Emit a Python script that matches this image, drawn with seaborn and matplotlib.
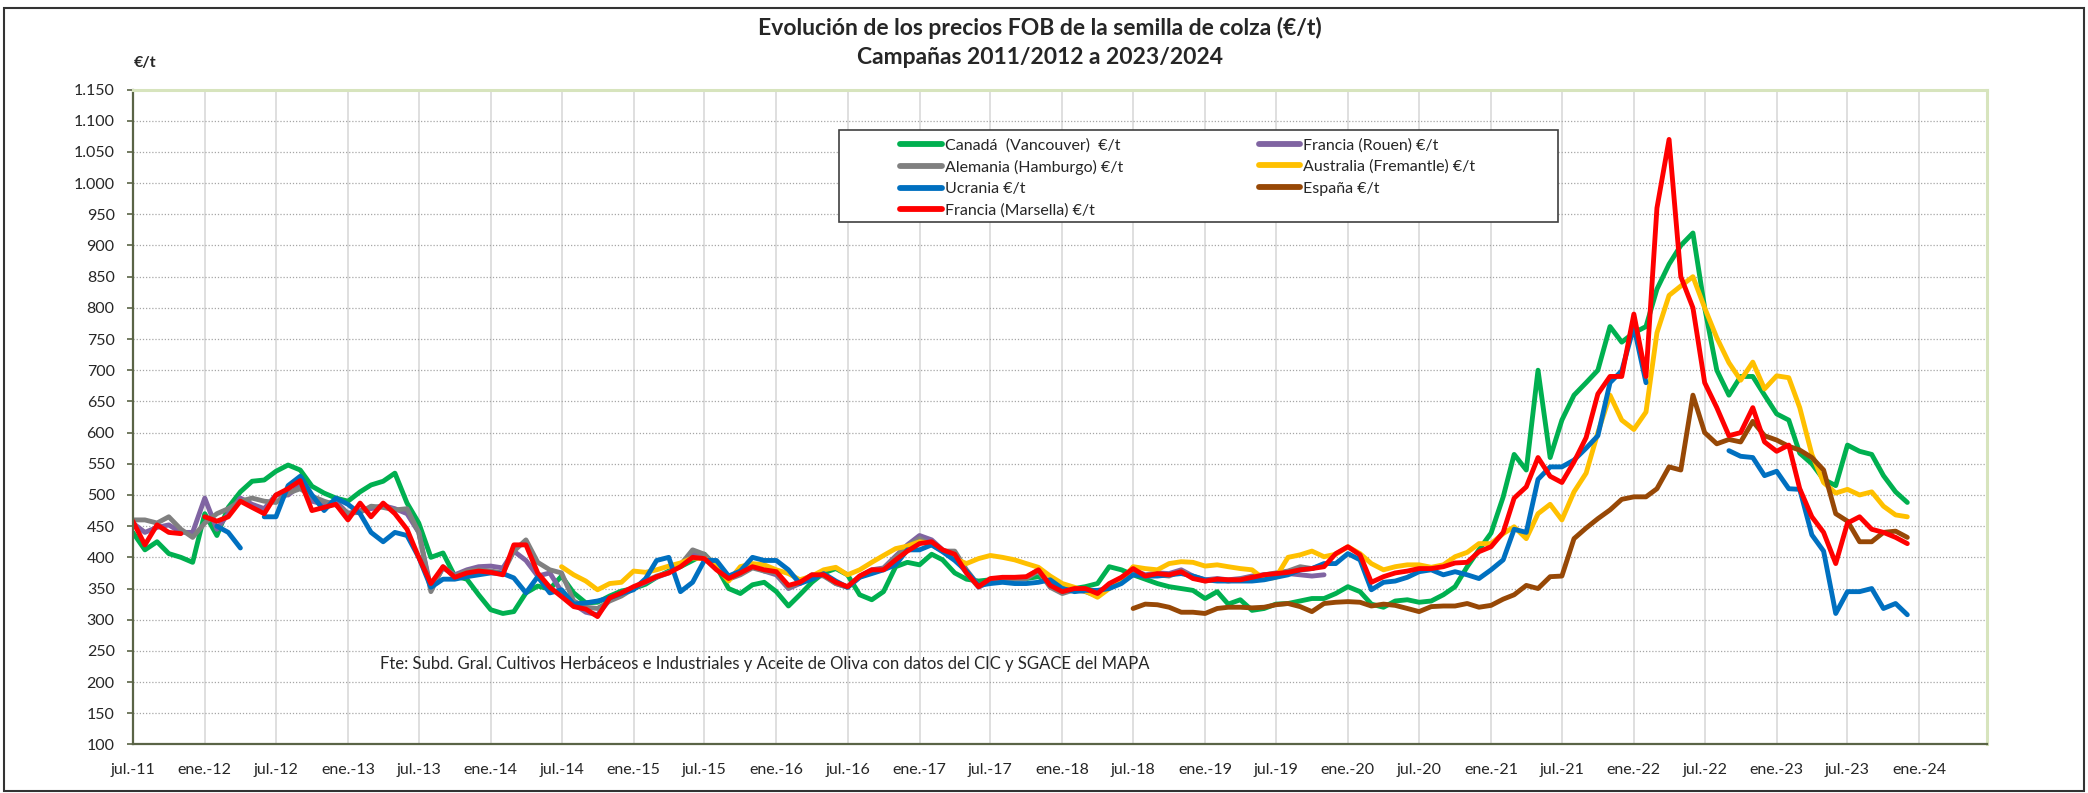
import numpy as np
import pandas as pd
import matplotlib
matplotlib.use('Agg')
import matplotlib.pyplot as plt
import seaborn as sns
from matplotlib.lines import Line2D
from matplotlib.patches import Rectangle
from matplotlib import ticker

nan = np.nan

# monthly readings, jul-2011 .. dic-2023 (one row per campaign jul-jun)
fechas = pd.date_range('2011-07-01', periods=150, freq='MS')

canada = [
    440, 412, 425, 406, 400, 392, 470, 435, 480, 505, 522, 524,
    538, 548, 540, 514, 503, 495, 490, 505, 516, 522, 535, 487,
    455, 400, 407, 370, 365, 340, 316, 310, 313, 343, 354, 349,
    370, 343, 327, 328, 338, 346, 350, 357, 368, 378, 385, 395,
    405, 385, 350, 342, 356, 360, 345, 322, 340, 360, 375, 382,
    372, 340, 332, 345, 385, 392, 388, 405, 396, 375, 365, 362,
    364, 364, 366, 366, 369, 360, 350, 350, 353, 358, 385, 380,
    372, 365, 358, 353, 350, 347, 334, 345, 325, 332, 315, 318,
    325, 326, 330, 334, 334, 342, 353, 345, 325, 320, 330, 332,
    328, 330, 340, 353, 385, 412, 439, 497, 565, 540, 700, 560,
    620, 660, 680, 700, 770, 745, 760, 770, 830, 870, 900, 920,
    800, 700, 660, 690, 690, 660, 630, 620, 567, 550, 525, 515,
    580, 570, 565, 531, 505, 488,
]

rouen = [
    455, 440, 448, 452, 440, 440, 495, 445, 470, 495, 485, 478,
    500, 500, 515, 490, 485, 490, 470, 475, 478, 483, 478, 470,
    440, 350, 383, 372, 380, 385, 386, 383, 410, 395, 370, 375,
    345, 325, 312, 308, 332, 340, 350, 360, 368, 375, 388, 405,
    400, 383, 368, 375, 386, 378, 372, 350, 358, 370, 372, 358,
    352, 370, 380, 383, 402, 420, 435, 428, 412, 400, 375, 352,
    362, 364, 366, 368, 380, 356, 345, 350, 348, 340, 355, 366,
    380, 372, 375, 374, 380, 370, 364, 366, 364, 366, 370, 372,
    372, 374, 372, 370, 372, nan, nan, nan, nan, nan, nan, nan,
] + [nan] * 42

alemania = [
    460, 460, 455, 465, 445, 432, 455, 470, 478, 490, 495, 490,
    488, 503, 510, 498, 490, 484, 471, 472, 482, 480, 476, 478,
    440, 345, 385, 370, 378, 380, 378, 375, 410, 428, 392, 380,
    375, 330, 320, 318, 330, 338, 350, 362, 370, 376, 388, 412,
    405, 385, 365, 372, 383, 378, 375, 352, 360, 372, 370, 358,
    352, 368, 378, 382, 400, 418, 430, 420, 410, 410, 380, 355,
    362, 365, 365, 366, 378, 352, 342, 348, 345, 338, 352, 365,
    375, 370, 372, 370, 378, 368, 362, 365, 362, 365, 368, 372,
    375, 378, 385, 382, 388, nan, nan, nan, nan, nan, nan, nan,
] + [nan] * 42

australia = [nan] * 36 + [
    385, 372, 362, 348, 358, 360, 378, 376, 380, 386, 391, 399,
    398, 385, 362, 385, 390, 388, 380, 374, 364, 370, 380, 384,
    372, 380, 392, 403, 414, 418, 425, 422, 410, 398, 390, 398,
    403, 400, 396, 390, 384, 370, 358, 352, 346, 336, 350, 362,
    385, 382, 380, 390, 393, 392, 386, 388, 385, 382, 380, 365,
    368, 400, 404, 410, 401, 405, 417, 406, 390, 380, 385, 388,
    388, 384, 388, 401, 408, 422, 422, 438, 449, 430, 470, 485,
    460, 505, 535, 600, 660, 620, 605, 633, 760, 820, 835, 850,
    800, 752, 712, 684, 713, 670, 691, 688, 640, 565, 520, 503,
    509, 500, 505, 482, 468, 465,
]

ucrania = [
    nan, nan, nan, nan, nan, nan, nan, 450, 440, 415, nan, 465,
    465, 515, 530, 500, 475, 495, 485, 470, 440, 425, 440, 435,
    400, 352, 365, 365, 369, 372, 375, 374, 367, 343, 369, 343,
    348, 325, 327, 330, 335, 342, 348, 366, 395, 400, 345, 360,
    395, 395, 370, 378, 400, 395, 395, 380, 358, 365, 374, 362,
    352, 368, 374, 380, 388, 412, 412, 420, 409, 395, 378, 355,
    358, 360, 358, 358, 360, 364, 350, 345, 347, 347, 350, 358,
    372, 370, 370, 372, 374, 370, 364, 362, 362, 362, 362, 364,
    368, 372, 380, 382, 390, 390, 406, 396, 348, 360, 362, 368,
    377, 380, 372, 377, 372, 366, 380, 396, 445, 440, 525, 545,
    545, 556, 575, 595, 680, 699, 770, 680, nan, nan, nan, nan,
    nan, nan, 571, 562, 560, 531, 538, 510, 509, 436, 410, 310,
    345, 345, 350, 318, 326, 308,
]

espana = [nan] * 84 + [
    318, 325, 324, 320, 312, 312, 310, 318, 320, 320, 319, 320,
    324, 326, 321, 313, 326, 328, 329, 328, 322, 325, 323, 318,
    313, 321, 322, 322, 326, 320, 323, 333, 340, 355, 350, 369,
    370, 430, 447, 462, 476, 493, 497, 497, 510, 545, 540, 660,
    600, 582, 589, 585, 618, 595, 588, 578, 572, 560, 540, 470,
    458, 425, 425, 440, 442, 432,
]

marsella = [
    458, 420, 452, 440, 438, nan, 465, 458, 465, 490, 480, 470,
    500, 510, 523, 475, 480, 485, 460, 487, 465, 487, 470, 445,
    400, 358, 385, 368, 375, 378, 376, 372, 420, 420, 375, 352,
    337, 321, 317, 305, 335, 343, 353, 361, 369, 375, 385, 400,
    398, 380, 366, 375, 385, 380, 377, 355, 360, 372, 372, 360,
    353, 370, 380, 380, 396, 410, 422, 425, 412, 405, 375, 353,
    366, 368, 368, 369, 380, 355, 345, 350, 350, 342, 358, 368,
    382, 370, 374, 372, 377, 366, 362, 365, 364, 364, 368, 372,
    374, 376, 380, 382, 385, 406, 417, 404, 360, 369, 375, 378,
    382, 382, 385, 391, 392, 409, 417, 440, 495, 513, 560, 530,
    520, 553, 592, 662, 690, 690, 790, 690, 960, 1070, 850, 800,
    680, 640, 595, 600, 640, 585, 570, 580, 510, 465, 440, 390,
    455, 465, 445, 440, 432, 422,
]

# drawing order as in the source workbook (last on top)
series = [
    ('Canadá  (Vancouver)  €/t', canada, '#00B050'),
    ('Francia (Rouen) €/t', rouen, '#8064A2'),
    ('Alemania (Hamburgo) €/t', alemania, '#808080'),
    ('Australia (Fremantle) €/t', australia, '#FFC000'),
    ('Ucrania €/t', ucrania, '#0070C0'),
    ('España €/t', espana, '#974806'),
    ('Francia (Marsella) €/t', marsella, '#FF0000'),
]
legend_order = [0, 2, 4, 6, 1, 3, 5]


def tramos(v):
    """split a series into runs without gaps"""
    idx = np.flatnonzero(~np.isnan(v))
    if len(idx) == 0:
        return []
    return np.split(idx, np.flatnonzero(np.diff(idx) > 1) + 1)


sns.set_style('white')
plt.rcParams['font.family'] = ['Lato', 'DejaVu Sans']

fig = plt.figure(figsize=(20.88, 7.93), dpi=100)
ax = fig.add_axes([0.0636, 0.0612, 0.8879, 0.8259])

for nombre, vals, color in series:
    assert len(vals) == len(fechas), nombre
    v = np.asarray(vals, dtype=float)
    for t in tramos(v):
        sns.lineplot(x=fechas[t], y=v[t], color=color, linewidth=3.5,
                     ax=ax, estimator=None, sort=False, legend=False)

ax.set_xlim(pd.Timestamp('2011-07-01'), pd.Timestamp('2024-06-21'))
ax.set_ylim(100, 1150)
ax.set_yticks(range(100, 1151, 50))
ax.yaxis.set_major_formatter(
    ticker.FuncFormatter(lambda v, p: f'{int(v):,}'.replace(',', '.')))

ticks = pd.date_range('2011-07-01', '2024-01-01', freq='6MS')
ax.set_xticks(ticks)
ax.set_xticklabels([('ene.' if d.month == 1 else 'jul.') + '-' + d.strftime('%y')
                    for d in ticks])
ax.set_xlabel('')
ax.set_ylabel('')

ax.set_axisbelow(True)
ax.xaxis.grid(True, color='#d9d9d9', lw=1.2, ls='-')
ax.yaxis.grid(True, color='#a6a6a6', lw=0.9, ls=(0, (1, 1.5)))

for s in ['left', 'bottom']:
    ax.spines[s].set_color('#5a6446')
    ax.spines[s].set_linewidth(1.6)
for s in ['top', 'right']:
    ax.spines[s].set_color('#d7e4bd')
    ax.spines[s].set_linewidth(2.2)

ax.tick_params(axis='y', left=True, length=4, width=1.2, color='#5a6446',
               pad=9, labelsize=11.5, direction='out')
ax.tick_params(axis='x', length=0, pad=13, labelsize=11.5)

ax.text(0.1334, 0.123,
        'Fte: Subd. Gral. Cultivos Herbáceos e Industriales y Aceite de Oliva '
        'con datos del CIC y SGACE del MAPA',
        transform=ax.transAxes, fontsize=12, va='center', ha='left')

# legend box
fig.add_artist(Rectangle((839 / 2088, 1 - 222 / 793), (1558 - 839) / 2088, 92 / 793,
                         transform=fig.transFigure, facecolor='white',
                         edgecolor='#404040', lw=1.2, zorder=3))
handles = [Line2D([], [], color=series[i][2], lw=4.2) for i in legend_order]
labels = [series[i][0] for i in legend_order]
fig.legend(handles, labels, ncol=2, loc='upper left',
           bbox_to_anchor=(900 / 2088, 1 - 138 / 793), frameon=False,
           fontsize=11.5, handlelength=2.6, handletextpad=0.2,
           columnspacing=8.5, labelspacing=0.46, borderpad=0, borderaxespad=0)

fig.text(0.498, 1 - 28 / 793,
         'Evolución de los precios FOB de la semilla de colza (€/t)',
         ha='center', va='center', fontsize=16.5, fontweight='bold')
fig.text(0.498, 1 - 58 / 793, 'Campañas 2011/2012 a 2023/2024',
         ha='center', va='center', fontsize=16.5, fontweight='bold')
fig.text(145 / 2088, 1 - 63 / 793, '€/t', ha='center', va='center',
         fontsize=11.5, fontweight='bold')

# outer chart border
fig.add_artist(Rectangle((4 / 2088, 2 / 793), 2080 / 2088, 783 / 793,
                         transform=fig.transFigure, fill=False,
                         edgecolor='#333333', lw=1.5))

fig.savefig('out.png', dpi=100)
